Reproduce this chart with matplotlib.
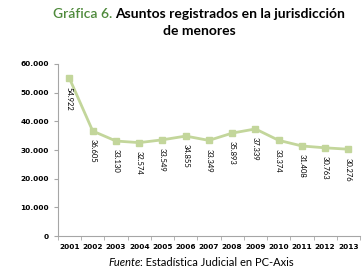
import matplotlib
matplotlib.use("Agg")
import matplotlib.pyplot as plt

years = ["2001", "2002", "2003", "2004", "2005", "2006", "2007",
         "2008", "2009", "2010", "2011", "2012", "2013"]
asuntos = [54922, 36605, 33130, 32574, 33549, 34855, 33349,
           35893, 37339, 33374, 31408, 30763, 30276]
y_ticks = [0, 10000, 20000, 30000, 40000, 50000, 60000]
y_labels = ["0", "10.000", "20.000", "30.000", "40.000", "50.000", "60.000"]

line_color = "#c3d69b"
axis_color = "#a6a6a6"

fig = plt.figure(figsize=(3.64, 2.73), dpi=100)
ax = fig.add_axes([0.159, 0.135, 0.83, 0.631])

x = list(range(len(years)))
ax.plot(x, asuntos, color=line_color, linewidth=2, marker="s", markersize=4)

# data labels, rotated, below each point
for xi, v in zip(x, asuntos):
    ax.annotate(f"{v:,}".replace(",", "."), (xi, v), xytext=(0, -6),
                textcoords="offset points", rotation=270, ha="center", va="top",
                fontsize=5.5, family="Lato")

ax.set_xlim(-0.5, len(years) - 0.5)
ax.set_ylim(0, 60000)
ax.set_yticks(y_ticks)
ax.set_yticklabels(y_labels, fontsize=5.3, fontweight="bold", family="DejaVu Sans")
ax.set_xticks(x)
ax.set_xticklabels(years, fontsize=5.3, fontweight="bold", family="DejaVu Sans")
ax.set_xticks([i - 0.5 for i in range(len(years) + 1)], minor=True)
ax.tick_params(axis="x", which="major", length=0, pad=6)
ax.tick_params(axis="x", which="minor", length=3, color=axis_color)
ax.tick_params(axis="y", length=3, color=axis_color, pad=3.5)

for side in ["top", "right"]:
    ax.spines[side].set_visible(False)
for side in ["left", "bottom"]:
    ax.spines[side].set_color(axis_color)
    ax.spines[side].set_linewidth(0.8)

# title with green "Gráfica 6." part
fig.canvas.draw()
r = fig.canvas.get_renderer()
t1 = fig.text(0, 1 - 14 / 273, "Gráfica 6. ", color="#4f8a3c", fontsize=10,
              family="Lato", fontweight="semibold", va="center")
t2 = fig.text(0, 1 - 14 / 273, "Asuntos registrados en la jurisdicción",
              color="black", fontsize=10, fontweight="bold", family="Lato",
              va="center")
w1 = t1.get_window_extent(r).width
w2 = t2.get_window_extent(r).width
start = 199 - (w1 + w2) / 2
t1.set_x(start / 364)
t2.set_x((start + w1) / 364)
fig.text(199 / 364, 1 - 31 / 273, "de menores", ha="center", va="center",
         fontsize=10, fontweight="bold", family="Lato")

f1 = fig.text(0, 1 - 262 / 273, "Fuente", fontstyle="italic", fontsize=8,
              family="Lato", va="center")
f2 = fig.text(0, 1 - 262 / 273, ": Estadística Judicial en PC-Axis", fontsize=8,
              family="Lato", va="center")
w1 = f1.get_window_extent(r).width
w2 = f2.get_window_extent(r).width
start = 201 - (w1 + w2) / 2
f1.set_x(start / 364)
f2.set_x((start + w1) / 364)

fig.savefig("out.png", dpi=100)
